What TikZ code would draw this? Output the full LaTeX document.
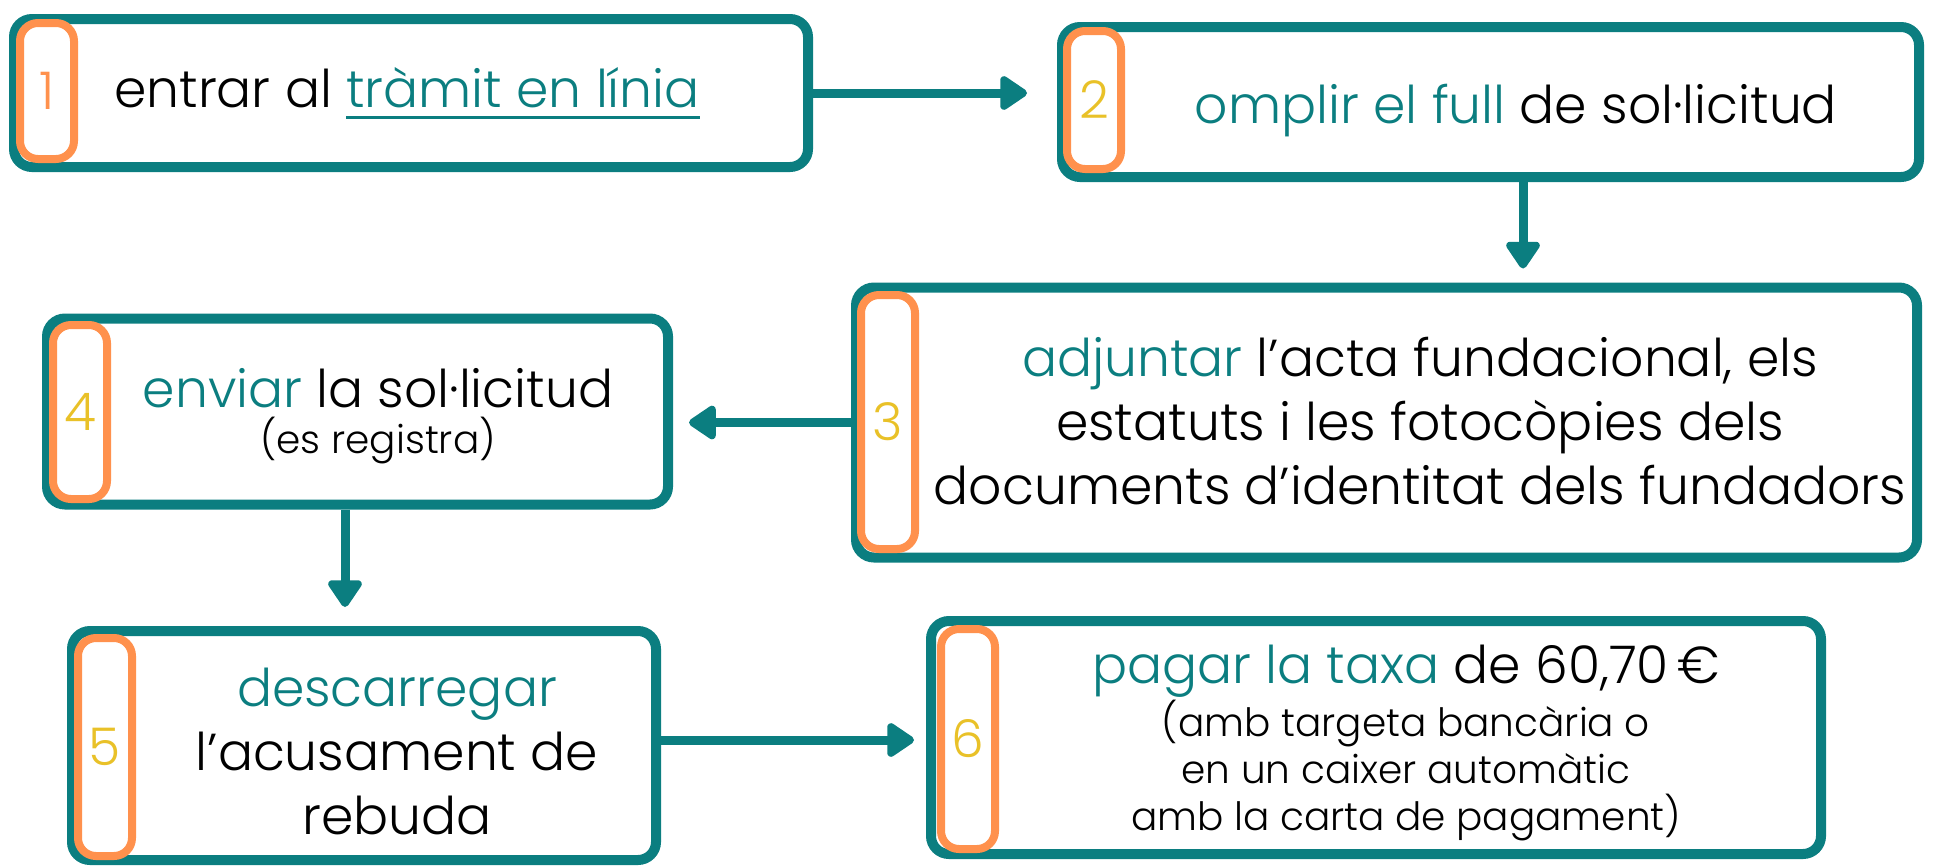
\documentclass[tikz,border=0pt]{standalone}
\usepackage{fontspec}
\setmainfont{Poppins Light}
\usetikzlibrary{arrows.meta}
\definecolor{tealc}{RGB}{11,126,128}
\definecolor{orng}{RGB}{255,145,77}
\definecolor{ylw}{RGB}{233,193,40}
\newcommand\myul[1]{\setbox0\hbox{#1}\rlap{\rule[-12pt]{\wd0}{3.5pt}}\box0}
\begin{document}
\begin{tikzpicture}[x=1pt,y=-1pt,
  box/.style={draw=tealc,line width=10pt,rounded corners=18pt,fill=white,inner sep=0pt},
  tab/.style={draw=orng,line width=8pt,rounded corners=18pt,fill=white,inner sep=0pt,minimum width=54pt,font=\fontsize{52}{52}\selectfont,text=ylw},
  txt/.style={font=\fontsize{52}{64}\selectfont,align=center,inner sep=0pt},
  stxt/.style={font=\fontsize{39}{47}\selectfont,align=center,inner sep=0pt},
  arr/.style={draw=tealc,line width=9pt,-{Triangle[length=30pt,width=38pt,round]}}]
\useasboundingbox (0,0) rectangle (1934,865);
% boxes
\node[box,minimum width=794pt,minimum height=148pt] (b1) at (411,93) {};
\node[box,minimum width=857pt,minimum height=150pt] (b2) at (1490.5,102) {};
\node[box,minimum width=1061pt,minimum height=270pt] (b3) at (1386.5,422.5) {};
\node[box,minimum width=621pt,minimum height=186pt] (b4) at (357.5,411.5) {};
\node[box,minimum width=584pt,minimum height=229pt] (b5) at (364,745.5) {};
\node[box,minimum width=890pt,minimum height=233pt] (b6) at (1376,737.5) {};
% tabs
\node[tab,minimum height=136pt,text=orng] (n1) at (47,91) {1};
\node[tab,minimum height=138pt] (n2) at (1094,100) {2};
\node[tab,minimum height=254pt] (n3) at (888,422) {3};
\node[tab,minimum height=174pt] (n4) at (80,412) {4};
\node[tab,minimum height=218pt] (n5) at (105,747) {5};
\node[tab,minimum height=220pt] (n6) at (968,739) {6};
% texts
\node[txt] (t1) at (407,93) {entrar al {\color{tealc}\myul{tràmit en línia}}};
\node[txt] (t2) at (1516,111) {{\color{tealc}omplir el full} de sol·licitud};
\node[txt] (t3) at (1420,421) {{\color{tealc}adjuntar} l’acta fundacional, els\\ estatuts i les fotocòpies dels\\ documents d’identitat dels fundadors};
\node[txt] (t4) at (378,388) {{\color{tealc}enviar} la sol·licitud};
\node[stxt] (t4s) at (378,441) {(es registra)};
\node[txt] (t5) at (397,751) {{\color{tealc}descarregar}\\ l’acusament de\\ rebuda};
\node[txt] (t6) at (1406,671) {{\color{tealc}pagar la taxa} de 60,70\,€};
\node[stxt] (t6s) at (1406,770) {(amb targeta bancària o\\ en un caixer automàtic\\ amb la carta de pagament)};
% connectors
\coordinate (c23) at (1523,0);
\coordinate (c45) at (345,0);
\coordinate (c56) at (0,740);
\draw[arr,shorten >=30pt] (b1.east) -- (b1.east -| b2.west);
\draw[arr,shorten >=14pt] (b2.south -| c23) -- (b3.north -| c23);
\draw[arr,shorten >=16pt] (b3.west) -- (b3.west -| b4.east);
\draw[arr,shorten >=19pt] (b4.south -| c45) -- (b5.north -| c45);
\draw[arr,shorten >=12pt] (b5.east |- c56) -- (b6.west |- c56);
\end{tikzpicture}
\end{document}
